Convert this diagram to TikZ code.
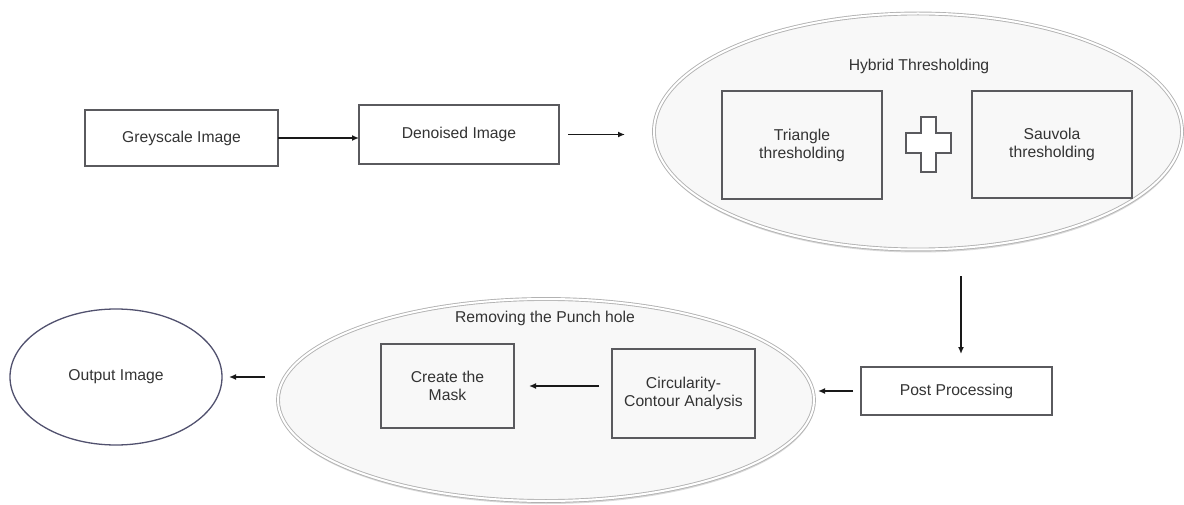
\documentclass[tikz,border=0pt]{standalone}
\usepackage{fontspec}
\setmainfont{Liberation Sans}
\usetikzlibrary{shapes.geometric,arrows.meta,shadows}
\definecolor{txt}{HTML}{333333}
\definecolor{boxline}{HTML}{5A5A5E}
\definecolor{ovalfill}{HTML}{F8F8F8}
\begin{document}
\begin{tikzpicture}[x=1pt,y=-1pt,
  every node/.style={font=\fontsize{15.7}{18}\selectfont, text=txt, align=center, outer sep=0pt, inner sep=0pt},
  procbox/.style={draw=boxline, line width=1.6pt, rectangle},
  bigoval/.style={ellipse, fill=ovalfill, draw=gray!60, double=white, double distance=2pt, line width=0.9pt,
     drop shadow={opacity=0.4, shadow xshift=0.5pt, shadow yshift=-3pt, fill=gray!75}},
  outoval/.style={ellipse, draw=boxline!90!blue, line width=1.3pt},
  arr/.style={draw=black!90, line width=1.6pt, -{Latex[length=7pt,width=6pt]}},
  plussign/.style={draw=boxline, line width=1.4pt, fill=white}
]
\useasboundingbox (0,0) rectangle (1184,505);

% top row
\node[procbox, minimum width=193pt, minimum height=56pt] (grey) at (181.5,138) {Greyscale Image};
\node[procbox, minimum width=200pt, minimum height=59pt] (deno) at (459,134.5) {Denoised Image};

% hybrid thresholding oval
\node[bigoval, minimum width=528pt, minimum height=236pt] (hyb) at (918,131.5) {};
\node (hybt) at (919,66) {Hybrid Thresholding};
\node[procbox, fill=ovalfill, minimum width=160pt, minimum height=108pt] (tri) at (802,145) {Triangle\\thresholding};
\node[procbox, fill=ovalfill, minimum width=160pt, minimum height=107pt] (sau) at (1052,144.5) {Sauvola\\thresholding};
\draw[plussign] (921,117) -- (936,117) -- (936,133) -- (951,133) -- (951,153) -- (936,153) -- (936,172)
  -- (921,172) -- (921,153) -- (906,153) -- (906,133) -- (921,133) -- cycle;

% post processing
\node[procbox, minimum width=191pt, minimum height=48pt] (post) at (956.5,391) {Post Processing};

% removing the punch hole oval
\node[bigoval, minimum width=536pt, minimum height=202pt] (rem) at (546,400) {};
\node (remt) at (545,318) {Removing the Punch hole};
\node[procbox, fill=ovalfill, minimum width=133pt, minimum height=84pt] (mask) at (447.5,386) {Create the\\Mask};
\node[procbox, fill=ovalfill, minimum width=143pt, minimum height=89pt] (circ) at (683.5,393.5) {Circularity-\\Contour Analysis};

% output
\node[outoval, minimum width=212pt, minimum height=136pt] (out) at (116,377) {Output Image};

% connectors
\draw[arr] (grey.east) -- (grey.east -| deno.west);
\draw[arr, shorten <=9pt, shorten >=29pt] (deno.east) -- (deno.east -| hyb.west);
\draw[arr, shorten <=27pt, shorten >=13pt] ([xshift=4.5pt]post.north |- hyb.south) -- ([xshift=4.5pt]post.north);
\draw[arr, shorten <=8pt, shorten >=4pt] (post.west) -- (post.west -| rem.east);
\draw[arr, shorten <=13pt, shorten >=15pt] (circ.west |- mask.east) -- (mask.east);
\draw[arr, shorten <=13pt, shorten >=7pt] (out.east -| rem.west) -- (out.east);
\end{tikzpicture}
\end{document}
